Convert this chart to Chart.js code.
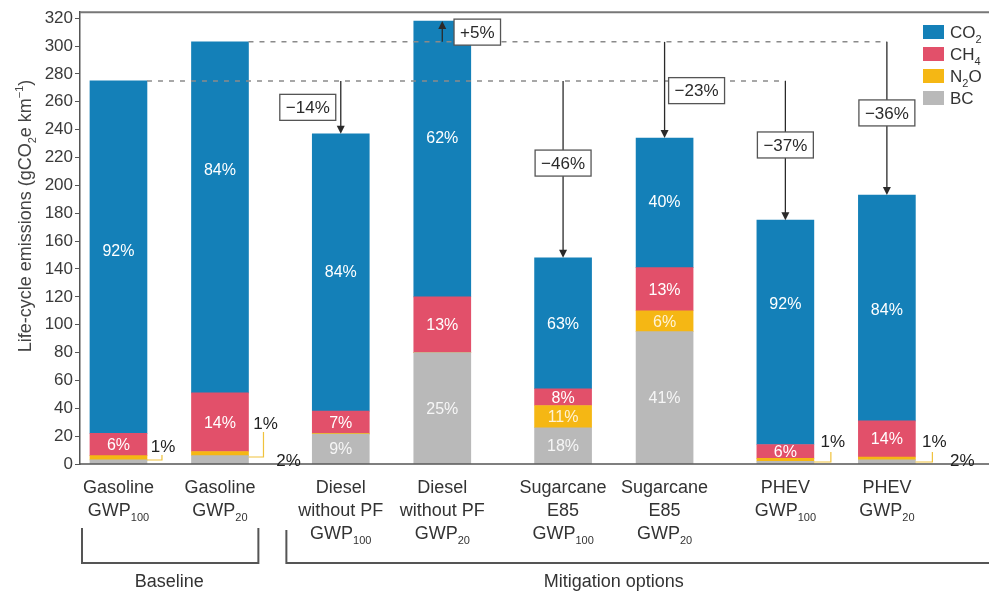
<!DOCTYPE html>
<html>
<head>
<meta charset="utf-8">
<script src="https://cdn.jsdelivr.net/npm/chart.js@4.4.0/dist/chart.umd.min.js"></script>
<style>
  html, body { margin: 0; background: #fff; }
</style>
</head>
<body>
<canvas id="chart" width="989" height="591"></canvas>
<script>
// Categories (x labels, subscripts as unicode)
const xLabels = [
  ['Gasoline', 'GWP₁₀₀'], ['Gasoline', 'GWP₂₀'],
  ['Diesel', 'without PF', 'GWP₁₀₀'], ['Diesel', 'without PF', 'GWP₂₀'],
  ['Sugarcane', 'E85', 'GWP₁₀₀'], ['Sugarcane', 'E85', 'GWP₂₀'],
  ['PHEV', 'GWP₁₀₀'], ['PHEV', 'GWP₂₀']
];
const yTicks = [0, 20, 40, 60, 80, 100, 120, 140, 160, 180, 200, 220, 240, 260, 280, 300, 320];
const yTitle = 'Life-cycle emissions (gCO₂e km⁻¹)';

// Series values (gCO2e per km)
const co2 = [253, 252, 199, 198, 94, 93, 161, 162];
const ch4 = [16, 42, 16, 40, 12, 31, 10, 26];
const n2o = [3, 3, 0.5, 0, 16, 15, 2, 2];
const bc  = [3, 6, 21.5, 80, 26, 95, 2, 3];

// Share labels printed inside the segments
const co2Pct = ['92%', '84%', '84%', '62%', '63%', '40%', '92%', '84%'];
const ch4Pct = ['6%', '14%', '7%', '13%', '8%', '13%', '6%', '14%'];
const n2oPct = ['', '', '', '', '11%', '6%', '', ''];
const bcPct  = ['', '', '9%', '25%', '18%', '41%', '', ''];

// Change vs baseline (bars 2..7), and which baseline bar they refer to
const changes = ['−14%', '+5%', '−46%', '−23%', '−37%', '−36%'];
const changeRef = [0, 1, 0, 1, 0, 1];

const groups = [
  { name: 'Baseline', from: 0, to: 1 },
  { name: 'Mitigation options', from: 2, to: 7 }
];

// ---- layout only (no data below) ----
const pos = xLabels.map((_, i) => (i % 2) + Math.floor(i / 2) * 2.19);
const BAR_W = 57;
const FONT = '"Liberation Sans", Arial, sans-serif';
const co2LabelAt = [153, 211, 138, 234, 101, 188, 115, 111];
const boxAt = [256, 310, 216, 268, 229, 252];
const boxDx = [-33, 35, 0, 32, 0, 0];
const sideNotes = [
  { bar: 0, text: '1%', dx: 16, up: 17, hook: [15, 4, 9] },
  { bar: 1, text: '1%', dx: 17, up: 40, hook: [15, 7, 32] },
  { bar: 1, text: '2%', dx: 40, up: 3 },
  { bar: 6, text: '1%', dx: 19, up: 22, hook: [17, 2, 12] },
  { bar: 7, text: '1%', dx: 19, up: 22, hook: [17, 2, 12] },
  { bar: 7, text: '2%', dx: 47, up: 3 }
];

const series = [
  { label: 'BC',  data: bc,  color: '#b9b9b9', pct: bcPct,  text: '#f6f6f6' },
  { label: 'N₂O', data: n2o, color: '#f5b714', pct: n2oPct, text: '#fff3d6' },
  { label: 'CH₄', data: ch4, color: '#e2506a', pct: ch4Pct, text: '#ffffff' },
  { label: 'CO₂', data: co2, color: '#1480b8', pct: co2Pct, text: '#ffffff' }
];
const totals = co2.map((_, i) => series.reduce((s, d) => s + d.data[i], 0));

// rich text: unicode sub/superscripts drawn smaller and shifted
const SUB = '₀₁₂₃₄₅₆₇₈₉';
const SUP = { '⁻': '−', '¹': '1', '²': '2' };
function runs(text) {
  const out = [];
  for (const ch of text) {
    let kind = 'n', c = ch;
    const si = SUB.indexOf(ch);
    if (si >= 0) { kind = 'sub'; c = String(si); }
    else if (SUP[ch]) { kind = 'sup'; c = SUP[ch]; }
    const last = out[out.length - 1];
    if (last && last.kind === kind) last.t += c; else out.push({ kind, t: c });
  }
  return out;
}
function richWidth(ctx, text, size) {
  let w = 0;
  runs(text).forEach(r => {
    ctx.font = (r.kind === 'n' ? size : Math.round(size * 0.62)) + 'px ' + FONT;
    w += ctx.measureText(r.t).width;
  });
  return w;
}
function drawRich(ctx, text, x, y, size, align) {
  ctx.textBaseline = 'alphabetic';
  ctx.textAlign = 'left';
  const w = richWidth(ctx, text, size);
  let cx = align === 'center' ? x - w / 2 : (align === 'right' ? x - w : x);
  runs(text).forEach(r => {
    const s = r.kind === 'n' ? size : Math.round(size * 0.62);
    ctx.font = s + 'px ' + FONT;
    const dy = r.kind === 'sub' ? size * 0.3 : (r.kind === 'sup' ? -size * 0.42 : 0);
    ctx.fillText(r.t, cx, y + dy);
    cx += ctx.measureText(r.t).width;
  });
}

const overlay = {
  id: 'overlay',
  afterDatasetsDraw(chart) {
    const { ctx, chartArea: a, scales: { x, y } } = chart;
    const bx = i => x.getPixelForValue(pos[i]);
    const half = BAR_W / 2;
    const line = (x1, y1, x2, y2) => { ctx.beginPath(); ctx.moveTo(x1, y1); ctx.lineTo(x2, y2); ctx.stroke(); };
    ctx.save();

    // frame top + x axis
    ctx.strokeStyle = '#777'; ctx.lineWidth = 2;
    line(a.left, a.top, a.right, a.top);
    ctx.strokeStyle = '#555'; ctx.lineWidth = 1.5;
    line(a.left, a.bottom, a.right, a.bottom);

    // labels inside segments
    ctx.font = '16px ' + FONT;
    ctx.textAlign = 'center'; ctx.textBaseline = 'middle';
    xLabels.forEach((_, i) => {
      let base = 0;
      series.forEach(s => {
        const v = s.data[i];
        if (s.pct[i]) {
          const mid = s.label === 'CO₂' ? co2LabelAt[i] : base + v / 2;
          ctx.fillStyle = s.text;
          ctx.fillText(s.pct[i], bx(i), y.getPixelForValue(mid) + 1);
        }
        base += v;
      });
    });

    // dashed reference lines from the baseline bars
    ctx.strokeStyle = '#8a8a8a'; ctx.lineWidth = 1.5; ctx.setLineDash([5, 6]);
    [0, 1].forEach(r => {
      const users = changeRef.map((ref, k) => ref === r ? k + 2 : -1).filter(v => v >= 0);
      const xEnd = bx(Math.max(...users));
      const yy = y.getPixelForValue(totals[r]);
      line(bx(r) + half, yy, xEnd, yy);
    });
    ctx.setLineDash([]);

    // arrows and change boxes
    changes.forEach((txt, k) => {
      const i = k + 2;
      const xx = bx(i);
      const y0 = y.getPixelForValue(totals[changeRef[k]]);
      const y1 = y.getPixelForValue(totals[i]);
      const dir = y1 > y0 ? 1 : -1;
      ctx.strokeStyle = '#2a2a2a'; ctx.fillStyle = '#2a2a2a'; ctx.lineWidth = 1.3;
      line(xx, y0, xx, y1 - dir * 6);
      ctx.beginPath();
      ctx.moveTo(xx, y1); ctx.lineTo(xx - 4, y1 - dir * 8); ctx.lineTo(xx + 4, y1 - dir * 8);
      ctx.closePath(); ctx.fill();

      ctx.font = '17px ' + FONT;
      const w = ctx.measureText(txt).width + 12, h = 26;
      const cx = xx + boxDx[k], cy = y.getPixelForValue(boxAt[k]);
      ctx.fillStyle = '#fff';
      ctx.fillRect(cx - w / 2, cy - h / 2, w, h);
      ctx.strokeStyle = '#555'; ctx.lineWidth = 1.3;
      ctx.strokeRect(cx - w / 2, cy - h / 2, w, h);
      ctx.fillStyle = '#2a2a2a'; ctx.textAlign = 'center'; ctx.textBaseline = 'middle';
      ctx.fillText(txt, cx, cy + 1);
    });

    // small shares written beside the bars
    sideNotes.forEach(n => {
      const right = bx(n.bar) + half;
      if (n.hook) {
        ctx.strokeStyle = '#f0c23c'; ctx.lineWidth = 1.2;
        ctx.beginPath();
        ctx.moveTo(right, a.bottom - n.hook[1]);
        ctx.lineTo(right + n.hook[0], a.bottom - n.hook[1]);
        ctx.lineTo(right + n.hook[0], a.bottom - n.hook[2]);
        ctx.stroke();
      }
      ctx.fillStyle = '#222'; ctx.font = '17px ' + FONT;
      ctx.textAlign = 'center'; ctx.textBaseline = 'middle';
      ctx.fillText(n.text, right + n.dx, a.bottom - n.up);
    });

    // legend (top to bottom: CO2, CH4, N2O, BC)
    series.slice().reverse().forEach((s, r) => {
      const cy = 32 + r * 22;
      ctx.fillStyle = s.color;
      ctx.fillRect(923, cy - 7, 21, 14);
      ctx.fillStyle = '#333';
      drawRich(ctx, s.label, 950, cy + 6, 17, 'left');
    });

    // x labels
    ctx.fillStyle = '#333';
    xLabels.forEach((lines, i) => {
      lines.forEach((t, l) => drawRich(ctx, t, bx(i), 493 + l * 23, 18, 'center'));
    });

    // group brackets
    ctx.strokeStyle = '#555'; ctx.lineWidth = 2;
    const gap = (bx(1) + bx(2)) / 2;
    groups.forEach((g, gi) => {
      const x1 = gi === 0 ? a.left + 2 : gap + 6;
      const x2 = gi === 0 ? gap - 22 : a.right + 2;
      const top = gi === 0 ? 528 : 530;
      ctx.beginPath();
      ctx.moveTo(x1, top); ctx.lineTo(x1, 563); ctx.lineTo(x2, 563);
      if (gi === 0) ctx.lineTo(x2, top);
      ctx.stroke();
      ctx.fillStyle = '#333';
      drawRich(ctx, g.name, (bx(g.from) + bx(g.to)) / 2, 587, 18, 'center');
    });

    // y title
    ctx.save();
    ctx.translate(25, 216);
    ctx.rotate(-Math.PI / 2);
    ctx.fillStyle = '#444';
    drawRich(ctx, yTitle, 0, 6, 18, 'center');
    ctx.restore();

    ctx.restore();
  }
};

new Chart(document.getElementById('chart'), {
  type: 'bar',
  data: {
    datasets: series.map(s => ({
      label: s.label,
      data: s.data.map((v, i) => ({ x: pos[i], y: v })),
      backgroundColor: s.color,
      borderWidth: 0,
      barThickness: BAR_W
    }))
  },
  options: {
    responsive: false,
    animation: false,
    devicePixelRatio: 1,
    layout: { padding: { left: 0, top: 10, right: 0, bottom: 127 } },
    plugins: { legend: { display: false }, tooltip: { enabled: false } },
    scales: {
      x: { type: 'linear', stacked: true, display: false, offset: false, min: -0.379, max: 8.576 },
      y: {
        stacked: true,
        min: 0,
        max: 324.3,
        afterFit: s => { s.width = 80; },
        afterBuildTicks: s => { s.ticks = yTicks.map(v => ({ value: v })); },
        border: { color: '#555', width: 1.5 },
        grid: { drawOnChartArea: false, tickLength: 5, color: '#555' },
        ticks: { font: { family: FONT, size: 17 }, color: '#3a3a3a', padding: 2 }
      }
    }
  },
  plugins: [overlay]
});
</script>
</body>
</html>
